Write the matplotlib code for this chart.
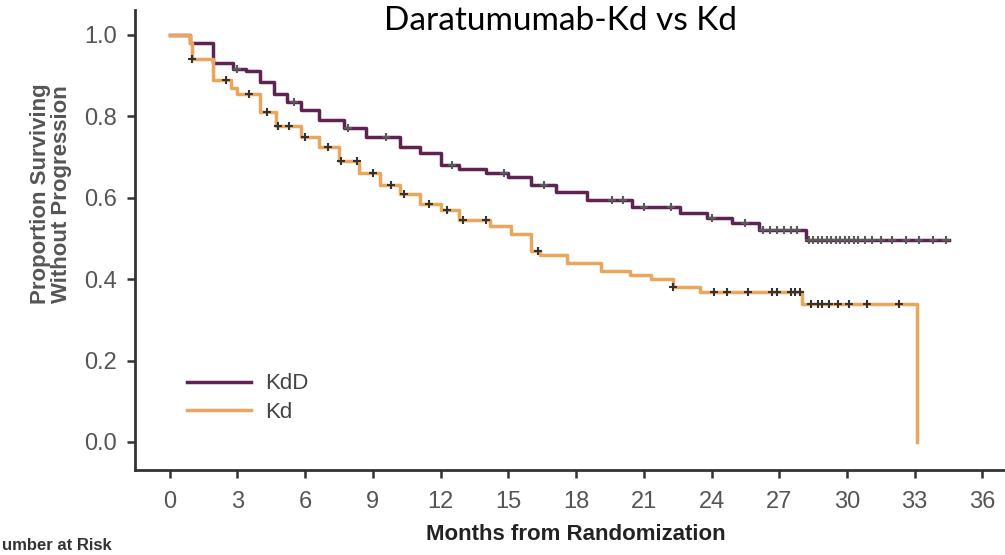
import numpy as np
from matplotlib import pyplot as plt

# Kaplan-Meier estimates (months, proportion)
kdd_t = [0, 0.9, 1.9, 2.8, 3.4, 4.0, 4.6, 5.2, 5.8, 6.6, 7.7, 8.7, 10.2, 11.1,
         12.0, 12.8, 14.0, 15.0, 16.0, 17.1, 18.5, 20.5, 22.6, 23.8, 24.9,
         26.1, 28.2, 34.5]
kdd_s = [1.0, 0.98, 0.93, 0.915, 0.91, 0.885, 0.855, 0.835, 0.815, 0.79, 0.77,
         0.75, 0.725, 0.71, 0.68, 0.67, 0.66, 0.65, 0.63, 0.615, 0.595, 0.578,
         0.563, 0.55, 0.538, 0.52, 0.496, 0.496]
kd_t = [0, 0.9, 1.0, 1.9, 2.7, 3.0, 4.0, 4.7, 5.8, 6.6, 7.5, 8.4, 9.3, 10.2,
        11.1, 12.0, 12.8, 14.2, 15.1, 16.0, 16.4, 17.6, 19.1, 20.4, 21.3,
        22.3, 23.5, 28.0, 33.1, 33.1]
kd_s = [1.0, 0.98, 0.94, 0.89, 0.87, 0.855, 0.81, 0.775, 0.75, 0.725, 0.69,
        0.66, 0.63, 0.61, 0.585, 0.57, 0.545, 0.53, 0.51, 0.47, 0.46, 0.44,
        0.42, 0.41, 0.40, 0.38, 0.368, 0.34, 0.34, 0.0]

# censored observations
kdd_cens = [3.0, 5.5, 7.9, 9.6, 12.5, 14.8, 16.6, 19.6, 20.1, 21.0, 22.2, 24.0,
            25.5, 26.3, 26.6, 26.9, 27.2, 27.5, 27.8, 28.3, 28.5, 28.7, 28.9,
            29.1, 29.3, 29.5, 29.7, 29.9, 30.1, 30.3, 30.5, 30.8, 31.1, 31.5,
            32.0, 32.6, 33.2, 33.8, 34.4]
kd_cens = [1.0, 2.5, 3.5, 4.3, 4.8, 5.3, 6.0, 7.0, 7.6, 8.3, 9.0, 9.8, 10.4,
           11.5, 12.3, 13.0, 14.0, 16.3, 22.3, 24.1, 24.7, 25.6, 26.7, 26.9,
           27.5, 27.7, 27.9, 28.4, 28.7, 28.9, 29.2, 29.6, 30.1, 30.9, 32.3]

xticks = list(range(0, 37, 3))
yticks = [0.0, 0.2, 0.4, 0.6, 0.8, 1.0]

plt.rcParams['font.family'] = ['Liberation Sans Narrow', 'Liberation Sans', 'DejaVu Sans']

fig = plt.figure(figsize=(10.05, 5.55), dpi=100)
ax = fig.add_axes([0.134, 0.153, 0.866, 0.829])

c_kdd = '#5e2352'
c_kd = '#e9a65c'
ax.plot(kdd_t, kdd_s, drawstyle='steps-post', color=c_kdd, lw=2.5, label='KdD')
ax.plot(kd_t, kd_s, drawstyle='steps-post', color=c_kd, lw=2.5, label='Kd')


def step_val(t, s, x):
    t = np.asarray(t)
    s = np.asarray(s)
    return s[np.searchsorted(t, x, side='right') - 1]


ax.plot(kdd_cens, step_val(kdd_t, kdd_s, kdd_cens), '+', color='#5a5a5a',
        ms=6, mew=1.5)
ax.plot(kd_cens, step_val(kd_t[:-1], kd_s[:-1], kd_cens), '+', color='#333333',
        ms=6, mew=1.5)

ax.set_xlim(-1.55, 37.0)
ax.set_ylim(-0.069, 1.061)
ax.set_xticks(xticks)
ax.set_yticks(yticks)
ax.set_yticklabels([f'{v:.1f}' for v in yticks])
for sp in ['top', 'right']:
    ax.spines[sp].set_visible(False)
for sp in ['left', 'bottom']:
    ax.spines[sp].set_linewidth(2)
    ax.spines[sp].set_color('#333333')
ax.tick_params(axis='both', length=6, width=1.8, color='#333333',
               labelsize=17, labelcolor='#555555')
ax.tick_params(axis='y', pad=7)
ax.tick_params(axis='x', pad=9)

ax.set_ylabel('Proportion Surviving\nWithout Progression', fontsize=16,
              fontweight='bold', color='#555555', linespacing=1.0)
ax.yaxis.set_label_coords(-0.072, 0.6)
ax.set_xlabel('Months from Randomization', fontsize=16, fontweight='bold',
              color='#222222', va='top')
ax.xaxis.set_label_coords(0.507, -0.118)

leg = ax.legend(loc='upper left', bbox_to_anchor=(0.06, 0.21), frameon=False,
                fontsize=16, handlelength=2.9, handletextpad=0.6,
                labelspacing=0.35, borderpad=0, borderaxespad=0)
for txt in leg.get_texts():
    txt.set_color('#444444')

fig.text(0.5575, 0.962, 'Daratumumab-Kd vs Kd', ha='center', va='center',
         fontsize=24, family=['Lato', 'DejaVu Sans'], color='black')
# the source image is cropped through the "N" of "Number at Risk"
fig.text(0.002, 0.030, 'umber at Risk', ha='left', va='top', fontsize=12,
         fontweight='bold', color='#333333')

fig.savefig('out.png', dpi=100)
